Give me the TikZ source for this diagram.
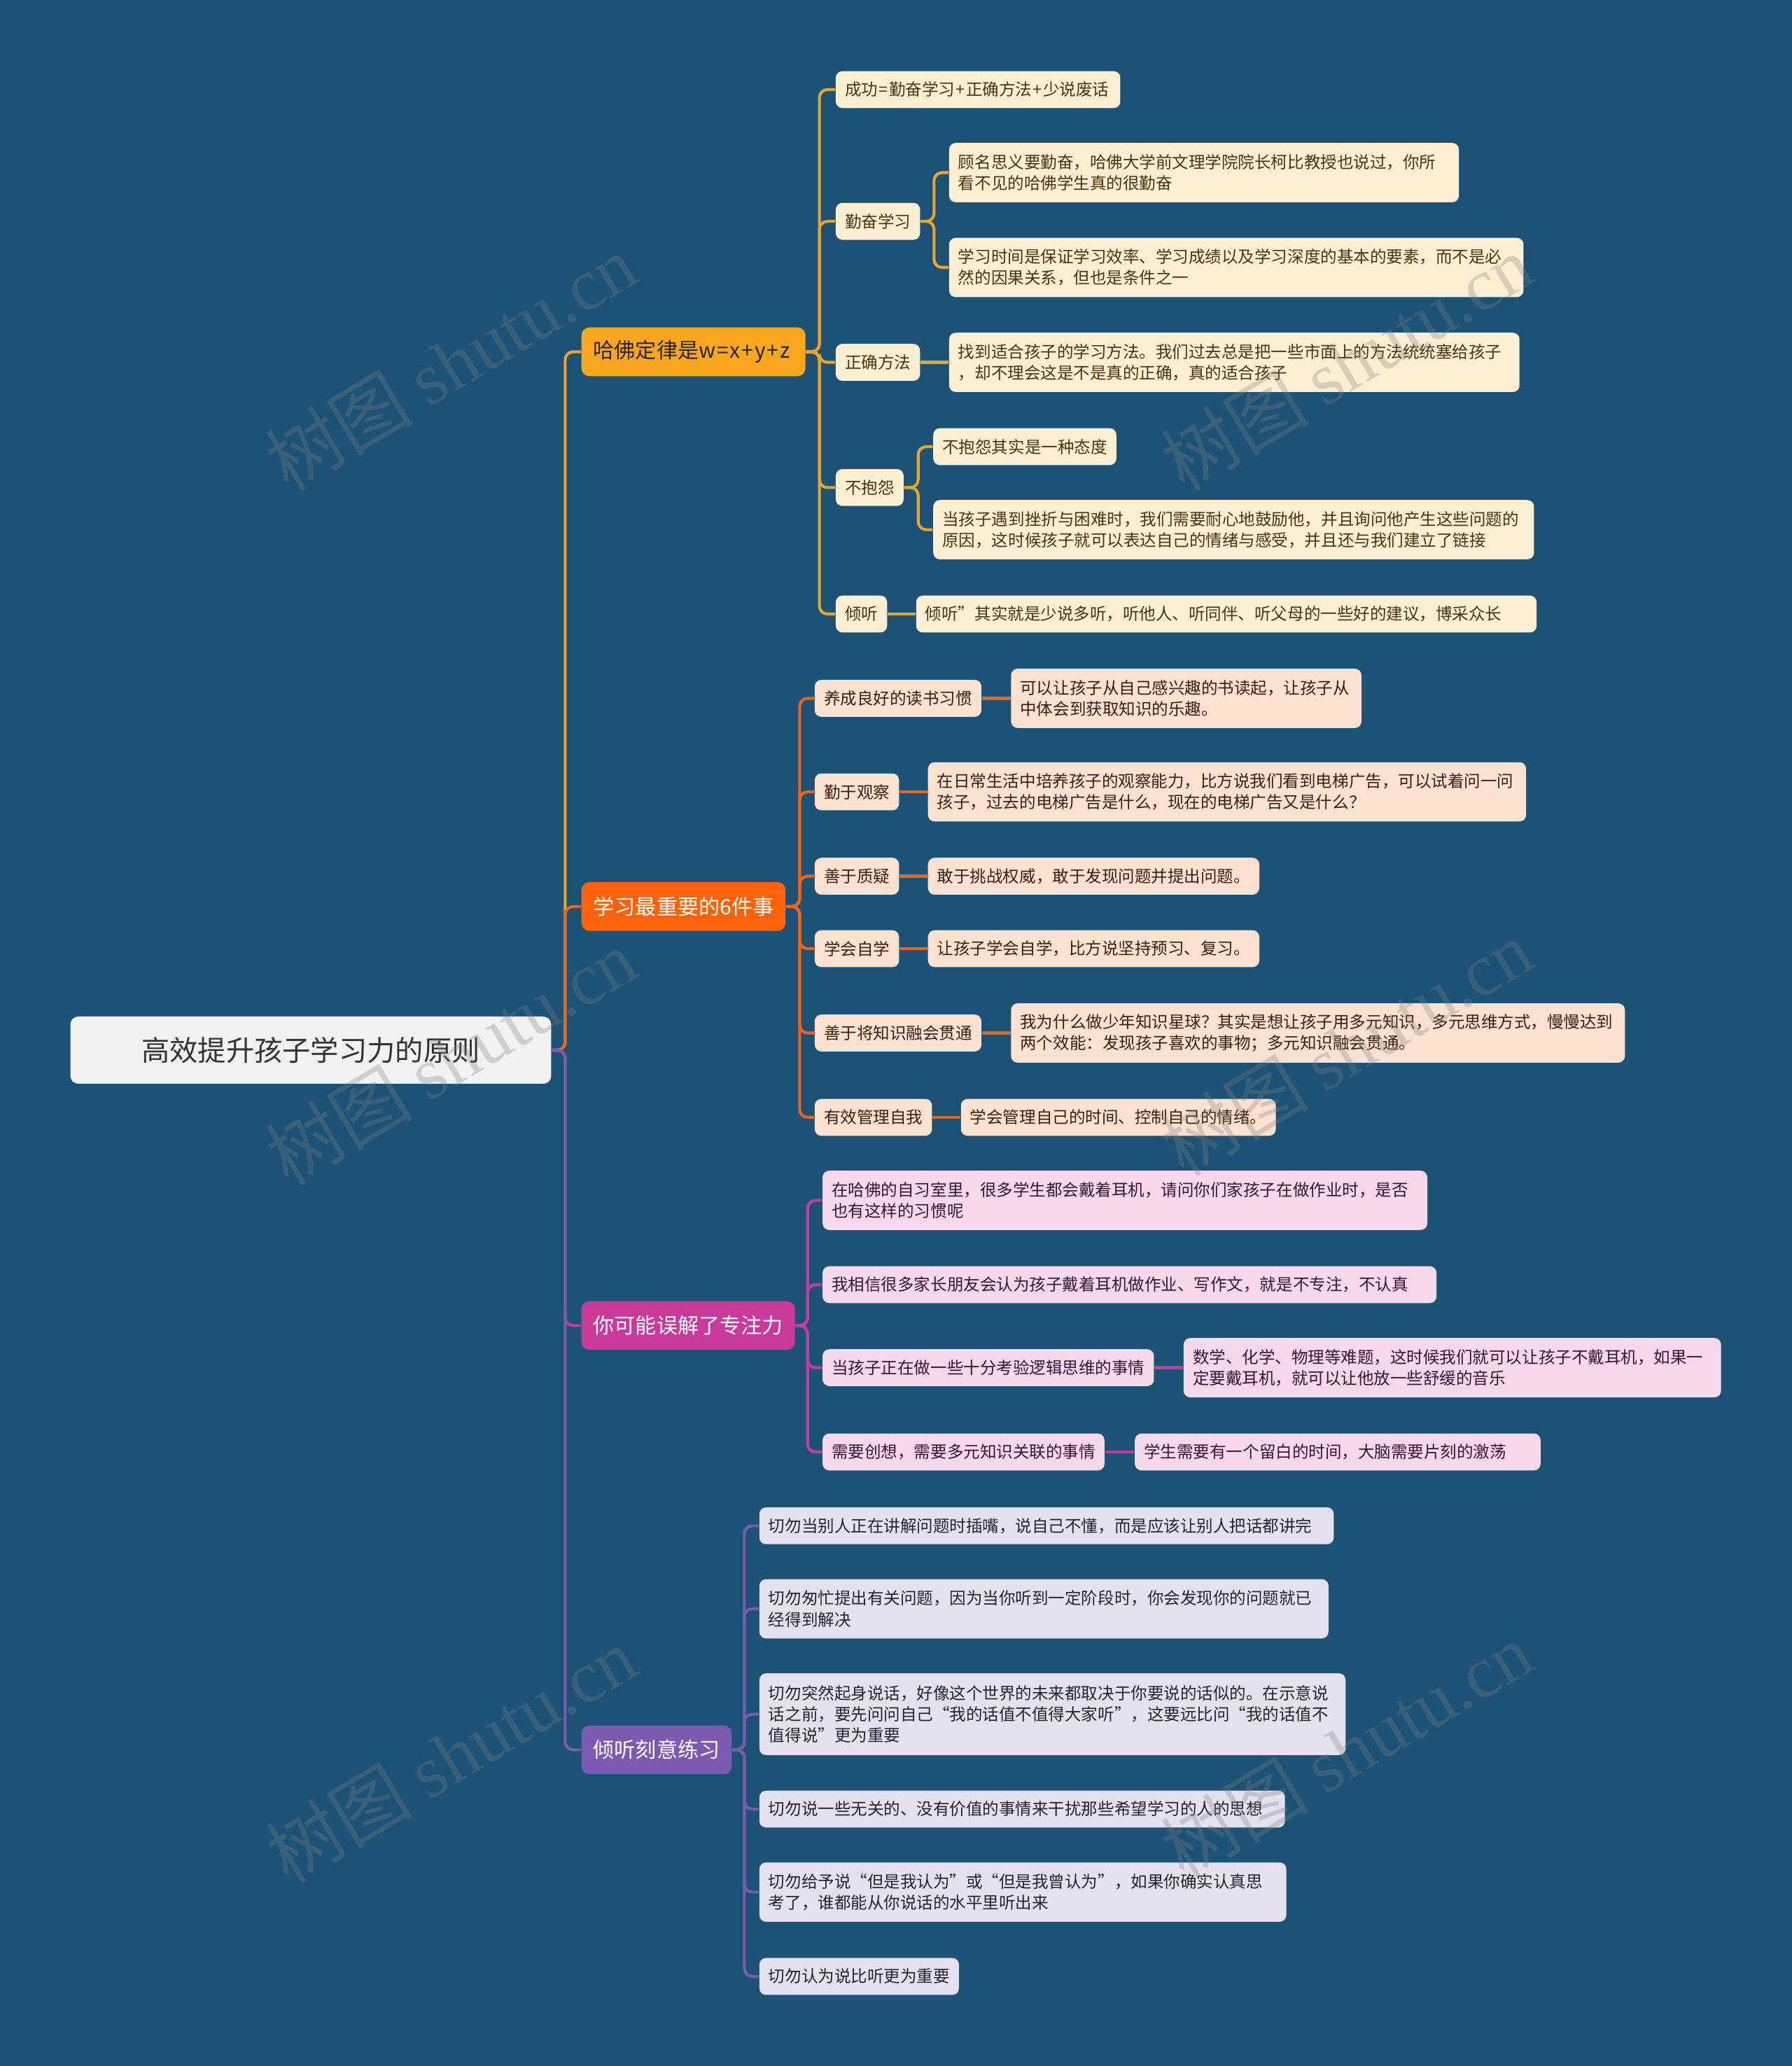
\documentclass[tikz,border=0pt]{standalone}
\usepackage{fontspec}
\setmainfont{Noto Sans CJK SC}
\newfontfamily\wmserif{Liberation Serif}
\newcommand\tsp{\kern0.06em}
\definecolor{bg}{HTML}{1B5276}
\definecolor{rootfill}{HTML}{F2F2F2}
\definecolor{roottext}{HTML}{333333}
\definecolor{brA}{HTML}{FBA61F}
\definecolor{brB}{HTML}{FF6208}
\definecolor{brC}{HTML}{C93A9B}
\definecolor{brD}{HTML}{7C5AB1}
\definecolor{lnA}{HTML}{EBA52B}
\definecolor{lnB}{HTML}{EE6418}
\definecolor{lnC}{HTML}{C63C9A}
\definecolor{lnD}{HTML}{7B5BB0}
\definecolor{fA}{HTML}{FDEFD3}
\definecolor{fB}{HTML}{FDE2D2}
\definecolor{fC}{HTML}{F6DAEC}
\definecolor{fD}{HTML}{E6E1F0}
\definecolor{tA}{HTML}{4A3410}
\definecolor{tB}{HTML}{3E1C0C}
\definecolor{tC}{HTML}{3A1232}
\definecolor{tD}{HTML}{262230}
\begin{document}
\begin{tikzpicture}[x=0.5pt,y=-0.5pt,
  lfbase/.style={rounded corners=2.5pt, inner ysep=0pt, inner xsep=3.5pt, anchor=west,
    minimum height=14pt, font=\fontsize{6.25}{8}\selectfont, align=left},
  lA/.style={lfbase, fill=fA, text=tA},
  lB/.style={lfbase, fill=fB, text=tB},
  lC/.style={lfbase, fill=fC, text=tC},
  lD/.style={lfbase, fill=fD, text=tD},
  mbr/.style={rounded corners=3pt, inner xsep=4.5pt, inner ysep=0pt, minimum height=18.5pt,
    anchor=west, font=\fontsize{8}{10}\selectfont},
  cA/.style={draw=lnA, line width=1.1pt, rounded corners=3pt},
  cB/.style={draw=lnB, line width=1.1pt, rounded corners=3pt},
  cC/.style={draw=lnC, line width=1.1pt, rounded corners=3pt},
  cD/.style={draw=lnD, line width=1.1pt, rounded corners=3pt},
  wm/.style={text=gray, text opacity=0.3, font=\fontsize{28}{30}\selectfont, rotate=31}
]
\fill[bg] (0,0) rectangle (1360,1568);
\useasboundingbox (0,0) rectangle (1360,1568);

% trunk x positions
\coordinate (T0) at (429,0);
\coordinate (T1) at (622,0);
\coordinate (T1a) at (709,0);
\coordinate (T1b) at (697,0);
\coordinate (T2) at (607,0);
\coordinate (T3) at (613,0);
\coordinate (T4) at (565,0);

% root
\node[rounded corners=3pt, fill=rootfill, text=roottext, anchor=west, minimum width=182.5pt,
  minimum height=25.5pt, inner sep=0pt, font=\fontsize{10.7}{12}\selectfont] (root) at (53,797) {高效提升孩子学习力的原则};

% main branches
\node[mbr, fill=brA, text=black!85, text width=76pt, align=left] (b1) at (441,267) {哈佛定律是w\tsp=\tsp x\tsp+\tsp y\tsp+\tsp z};
\node[mbr, fill=brB, text=white] (b2) at (441,688) {学习最重要的6件事};
\node[mbr, fill=brC, text=white] (b3) at (441,1006) {你可能误解了专注力};
\node[mbr, fill=brD, text=white] (b4) at (441,1328) {倾听刻意练习};

% branch 1
\node[lA, text width=101pt] (c1) at (634,68) {成功\tsp=\tsp 勤奋学习\tsp+\tsp 正确方法\tsp+\tsp 少说废话};
\node[lA] (k1) at (634,168) {勤奋学习};
\node[lA, text width=186.5pt, minimum height=22.5pt] (g1) at (720,131) {顾名思义要勤奋，哈佛大学前文理学院院长柯比教授也说过，你所\\看不见的哈佛学生真的很勤奋};
\node[lA, text width=211pt, minimum height=22.5pt] (g2) at (720,203) {学习时间是保证学习效率、学习成绩以及学习深度的基本的要素，而不是必\\然的因果关系，但也是条件之一};
\node[lA] (k2) at (634,275) {正确方法};
\node[lA, text width=209.5pt, minimum height=22.5pt] (z1) at (720,275) {找到适合孩子的学习方法。我们过去总是把一些市面上的方法统统塞给孩子\\，却不理会这是不是真的正确，真的适合孩子};
\node[lA] (k3) at (634,370) {不抱怨};
\node[lA] (bq1) at (708,339) {不抱怨其实是一种态度};
\node[lA, text width=221pt, minimum height=22.5pt] (bq2) at (708,402) {当孩子遇到挫折与困难时，我们需要耐心地鼓励他，并且询问他产生这些问题的\\原因，这时候孩子就可以表达自己的情绪与感受，并且还与我们建立了链接};
\node[lA] (k4) at (634,466) {倾听};
\node[lA, text width=228.5pt] (q1) at (695,466) {倾听”其实就是少说多听，听他人、听同伴、听父母的一些好的建议，博采众长};

% branch 2
\node[lB] (r1) at (618,530) {养成良好的读书习惯};
\node[lB, text width=126pt, minimum height=22.5pt] (r1a) at (767,530) {可以让孩子从自己感兴趣的书读起，让孩子从\\中体会到获取知识的乐趣。};
\node[lB] (r2) at (618,601) {勤于观察};
\node[lB, text width=220pt, minimum height=22.5pt] (r2a) at (704,601) {在日常生活中培养孩子的观察能力，比方说我们看到电梯广告，可以试着问一问\\孩子，过去的电梯广告是什么，现在的电梯广告又是什么？};
\node[lB] (r3) at (618,665) {善于质疑};
\node[lB] (r3a) at (704,665) {敢于挑战权威，敢于发现问题并提出问题。};
\node[lB] (r4) at (618,720) {学会自学};
\node[lB] (r4a) at (704,720) {让孩子学会自学，比方说坚持预习、复习。};
\node[lB] (r5) at (618,784) {善于将知识融会贯通};
\node[lB, text width=226pt, minimum height=22.5pt] (r5a) at (767,784) {我为什么做少年知识星球？其实是想让孩子用多元知识，多元思维方式，慢慢达到\\两个效能：发现孩子喜欢的事物；多元知识融会贯通。};
\node[lB] (r6) at (618,848) {有效管理自我};
\node[lB] (r6a) at (729,848) {学会管理自己的时间、控制自己的情绪。};

% branch 3
\node[lC, text width=222.5pt, minimum height=22.5pt] (m1) at (624,911) {在哈佛的自习室里，很多学生都会戴着耳机，请问你们家孩子在做作业时，是否\\也有这样的习惯呢};
\node[lC, text width=226pt] (m2) at (624,975) {我相信很多家长朋友会认为孩子戴着耳机做作业、写作文，就是不专注，不认真};
\node[lC] (m3) at (624,1038) {当孩子正在做一些十分考验逻辑思维的事情};
\node[lC, text width=197pt, minimum height=22.5pt] (m3a) at (898,1038) {数学、化学、物理等难题，这时候我们就可以让孩子不戴耳机，如果一\\定要戴耳机，就可以让他放一些舒缓的音乐};
\node[lC] (m4) at (624,1102) {需要创想，需要多元知识关联的事情};
\node[lC, text width=147pt] (m4a) at (861,1102) {学生需要有一个留白的时间，大脑需要片刻的激荡};

% branch 4
\node[lD, text width=211pt] (p1) at (576,1158) {切勿当别人正在讲解问题时插嘴，说自己不懂，而是应该让别人把话都讲完};
\node[lD, text width=209pt, minimum height=22.5pt] (p2) at (576,1221) {切勿匆忙提出有关问题，因为当你听到一定阶段时，你会发现你的问题就已\\经得到解决};
\node[lD, text width=215.5pt, minimum height=31pt] (p3) at (576,1301) {切勿突然起身说话，好像这个世界的未来都取决于你要说的话似的。在示意说\\话之前，要先问问自己“我的话值不值得大家听”，这要远比问“我的话值不\\值得说”更为重要};
\node[lD, text width=192.5pt] (p4) at (576,1373) {切勿说一些无关的、没有价值的事情来干扰那些希望学习的人的思想};
\node[lD, text width=193pt, minimum height=22.5pt] (p5) at (576,1436) {切勿给予说“但是我认为”或“但是我曾认为”，如果你确实认真思\\考了，谁都能从你说话的水平里听出来};
\node[lD] (p6) at (576,1500) {切勿认为说比听更为重要};

% connectors: root to branches
\draw[cA] (root.east) -- (root.east -| T0) |- (b1.west);
\draw[cB] (root.east) -- (root.east -| T0) |- (b2.west);
\draw[cC] (root.east) -- (root.east -| T0) |- (b3.west);
\draw[cD] (root.east) -- (root.east -| T0) |- (b4.west);

% branch 1 connectors
\foreach \c in {c1,k1,k2,k3,k4}
  \draw[cA] (b1.east) -- (b1.east -| T1) |- (\c.west);
\foreach \c in {g1,g2}
  \draw[cA] (k1.east) -- (k1.east -| T1a) |- (\c.west);
\draw[cA] (k2.east) -- (z1.west);
\foreach \c in {bq1,bq2}
  \draw[cA] (k3.east) -- (k3.east -| T1b) |- (\c.west);
\draw[cA] (k4.east) -- (q1.west);

% branch 2 connectors
\foreach \c in {r1,r2,r3,r4,r5,r6}
  \draw[cB] (b2.east) -- (b2.east -| T2) |- (\c.west);
\draw[cB] (r1.east) -- (r1a.west);
\draw[cB] (r2.east) -- (r2a.west);
\draw[cB] (r3.east) -- (r3a.west);
\draw[cB] (r4.east) -- (r4a.west);
\draw[cB] (r5.east) -- (r5a.west);
\draw[cB] (r6.east) -- (r6a.west);

% branch 3 connectors
\foreach \c in {m1,m2,m3,m4}
  \draw[cC] (b3.east) -- (b3.east -| T3) |- (\c.west);
\draw[cC] (m3.east) -- (m3a.west);
\draw[cC] (m4.east) -- (m4a.west);

% branch 4 connectors
\foreach \c in {p1,p2,p3,p4,p5,p6}
  \draw[cD] (b4.east) -- (b4.east -| T4) |- (\c.west);

% watermarks
\node[wm] (w1) at (342,275) {树图 {\wmserif shutu.cn}};
\node[wm] (w2) at (1022,275) {树图 {\wmserif shutu.cn}};
\node[wm] (w3) at (342,802) {树图 {\wmserif shutu.cn}};
\node[wm] (w4) at (1022,795) {树图 {\wmserif shutu.cn}};
\node[wm] (w5) at (342,1332) {树图 {\wmserif shutu.cn}};
\node[wm] (w6) at (1022,1328) {树图 {\wmserif shutu.cn}};
\end{tikzpicture}
\end{document}
